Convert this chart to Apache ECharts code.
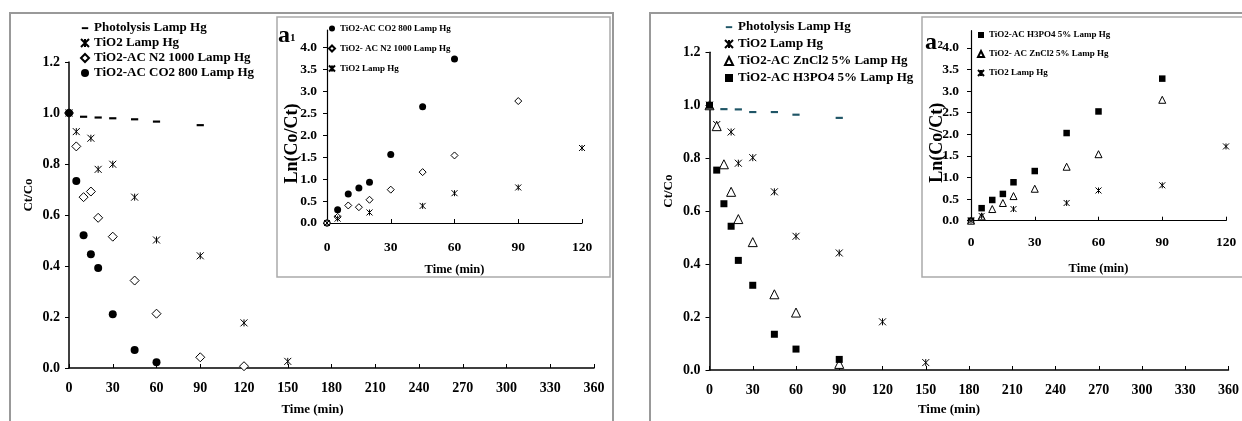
<!DOCTYPE html>
<html>
<head>
<meta charset="utf-8">
<script src="https://cdn.jsdelivr.net/npm/echarts@6/dist/echarts.min.js"></script>
<style>html,body{margin:0;padding:0;background:#fff;}#c{width:1242px;height:421px;}</style>
</head>
<body>
<div id="c"></div>
<script>
// ---------- data (left panel a) ----------
const L_photoT = [10, 20, 30, 45, 60, 90];
const L_photoV = [0.986, 0.983, 0.980, 0.976, 0.967, 0.953];
const L_tio2T = [0, 5, 15, 20, 30, 45, 60, 90, 120, 150];
const L_tio2V = [1.0, 0.927, 0.901, 0.779, 0.799, 0.670, 0.502, 0.440, 0.177, 0.026];
const L_n2T = [0, 5, 10, 15, 20, 30, 45, 60, 90, 120];
const L_n2V = [1.0, 0.869, 0.670, 0.692, 0.589, 0.515, 0.343, 0.213, 0.042, 0.007];
const L_co2T = [0, 5, 10, 15, 20, 30, 45, 60];
const L_co2V = [1.0, 0.733, 0.521, 0.446, 0.392, 0.211, 0.071, 0.023];
// inset a1 : Ln(Co/Ct)
const A1_co2T = [0, 5, 10, 15, 20, 30, 45, 60];
const A1_co2V = [0, 0.30, 0.66, 0.80, 0.93, 1.56, 2.65, 3.74];
const A1_n2T = [0, 5, 10, 15, 20, 30, 45, 60, 90];
const A1_n2V = [0, 0.14, 0.40, 0.36, 0.53, 0.76, 1.16, 1.54, 2.78];
const A1_tio2T = [0, 5, 20, 45, 60, 90, 120];
const A1_tio2V = [0, 0.10, 0.24, 0.39, 0.68, 0.81, 1.71];
// ---------- data (right panel b) ----------
const R_photoT = [10, 20, 30, 45, 60, 90];
const R_photoV = [0.986, 0.985, 0.975, 0.975, 0.965, 0.953];
const R_tio2T = [0, 5, 15, 20, 30, 45, 60, 90, 120, 150];
const R_tio2V = [1.0, 0.927, 0.899, 0.781, 0.802, 0.673, 0.505, 0.442, 0.182, 0.028];
const R_znT = [0, 5, 10, 15, 20, 30, 45, 60, 90];
const R_znV = [1.0, 0.921, 0.777, 0.673, 0.570, 0.483, 0.286, 0.217, 0.023];
const R_h3T = [0, 5, 10, 15, 20, 30, 45, 60, 90];
const R_h3V = [1.0, 0.755, 0.628, 0.543, 0.414, 0.320, 0.135, 0.079, 0.040];
// inset a2
const A2_h3T = [0, 5, 10, 15, 20, 30, 45, 60, 90];
const A2_h3V = [0, 0.29, 0.48, 0.62, 0.89, 1.15, 2.03, 2.53, 3.29];
const A2_znT = [0, 5, 10, 15, 20, 30, 45, 60, 90];
const A2_znV = [0, 0.10, 0.27, 0.41, 0.57, 0.74, 1.25, 1.54, 2.80];
const A2_tio2T = [0, 5, 20, 45, 60, 90, 120];
const A2_tio2V = [0, 0.11, 0.27, 0.41, 0.70, 0.82, 1.72];
// ---------- ticks ----------
const mainXTicks = [0, 30, 60, 90, 120, 150, 180, 210, 240, 270, 300, 330, 360];
const mainYTicks = [0, 0.2, 0.4, 0.6, 0.8, 1.0, 1.2];
const insetXTicks = [0, 30, 60, 90, 120];
const insetYTicks = [0, 0.5, 1.0, 1.5, 2.0, 2.5, 3.0, 3.5, 4.0];
// ---------- names ----------
const N_PHOTO = 'Photolysis Lamp Hg';
const N_TIO2 = 'TiO2 Lamp Hg';
const N_N2 = 'TiO2-AC N2 1000 Lamp Hg';
const N_CO2 = 'TiO2-AC CO2 800 Lamp Hg';
const N_ZN = 'TiO2-AC ZnCl2 5% Lamp Hg';
const N_H3 = 'TiO2-AC H3PO4 5% Lamp Hg';
const N_CO2i = 'TiO2-AC CO2 800 Lamp Hg ';
const N_N2i = 'TiO2- AC N2 1000 Lamp Hg';
const N_TIO2i = 'TiO2 Lamp Hg ';
const N_H3i = 'TiO2-AC H3PO4 5% Lamp Hg ';
const N_ZNi = 'TiO2- AC ZnCl2 5% Lamp Hg';

const FONT = 'Liberation Serif';
const DASH = 'path://M0,0M10,10M1,4h8v2.4h-8z';
const STAR = 'path://M0,0L10,10M10,0L0,10M5,0L5,10';

const pts = (t, v) => t.map((x, i) => [x, v[i]]);

const sty = {
  photoL: {symbol: DASH, itemStyle: {color: '#000', opacity: 1}},
  photoR: {symbol: DASH, itemStyle: {color: '#1f5566', opacity: 1}},
  star: {symbol: STAR, itemStyle: {color: 'rgba(0,0,0,0)', borderColor: '#000', borderWidth: 1, opacity: 1}},
  diamond: {symbol: 'diamond', itemStyle: {color: '#fff', borderColor: '#000', borderWidth: 1, opacity: 1}},
  circle: {symbol: 'circle', itemStyle: {color: '#000', opacity: 1}},
  tri: {symbol: 'triangle', itemStyle: {color: '#fff', borderColor: '#000', borderWidth: 1, opacity: 1}},
  square: {symbol: 'rect', itemStyle: {color: '#000', opacity: 1}}
};

function sc(name, grid, t, v, s, size) {
  return Object.assign({
    type: 'scatter', name: name, xAxisIndex: grid, yAxisIndex: grid,
    data: pts(t, v), symbolSize: size, silent: true
  }, JSON.parse(JSON.stringify(s)));
}

function mainX(grid, nameGap, pad) {
  return {
    gridIndex: grid, type: 'value', min: 0, max: 360, interval: 30,
    name: 'Time (min)', nameLocation: 'middle', nameGap: nameGap, nameMoveOverlap: false,
    nameTextStyle: {fontFamily: FONT, fontWeight: 'bold', fontSize: 13, color: '#000', padding: pad},
    axisLine: {show: true, onZero: false, lineStyle: {color: '#000', width: 1.5}},
    axisTick: {show: true, inside: true, length: 4, lineStyle: {color: '#000', width: 1}, customValues: mainXTicks},
    axisLabel: {fontFamily: FONT, fontWeight: 'bold', fontSize: 14, color: '#000', margin: 13, customValues: mainXTicks},
    splitLine: {show: false}
  };
}
function mainY(grid, pad) {
  return {
    gridIndex: grid, type: 'value', min: 0, max: 1.2, interval: 0.2,
    name: 'Ct/Co', nameLocation: 'middle', nameGap: 34, nameRotate: 90, nameMoveOverlap: false,
    nameTextStyle: {fontFamily: FONT, fontWeight: 'bold', fontSize: 13, color: '#000', padding: pad},
    axisLine: {show: true, onZero: false, lineStyle: {color: '#000', width: 1.5}},
    axisTick: {show: true, inside: false, length: 4, lineStyle: {color: '#000', width: 1}, customValues: mainYTicks},
    axisLabel: {fontFamily: FONT, fontWeight: 'bold', fontSize: 14, color: '#000', margin: 9,
      customValues: mainYTicks, formatter: v => v.toFixed(1)},
    splitLine: {show: false}
  };
}
function insetX(grid, margin, nameGap) {
  return {
    gridIndex: grid, type: 'value', min: 0, max: 120, interval: 30,
    name: 'Time (min)', nameLocation: 'middle', nameGap: nameGap, nameMoveOverlap: false,
    nameTextStyle: {fontFamily: FONT, fontWeight: 'bold', fontSize: 12.5, color: '#000'},
    axisLine: {show: true, onZero: false, lineStyle: {color: '#000', width: 1.2}},
    axisTick: {show: true, inside: true, length: 4, lineStyle: {color: '#000', width: 1}, customValues: insetXTicks},
    axisLabel: {fontFamily: FONT, fontWeight: 'bold', fontSize: 13.5, color: '#000', margin: margin, customValues: insetXTicks},
    splitLine: {show: false}
  };
}
function insetY(grid, margin, nameGap) {
  return {
    gridIndex: grid, type: 'value', min: 0, max: 4.4,
    name: 'Ln(Co/Ct)', nameLocation: 'middle', nameGap: nameGap, nameRotate: 90, nameMoveOverlap: false,
    nameTextStyle: {fontFamily: FONT, fontWeight: 'bold', fontSize: 18, color: '#000', padding: [0, 34, 0, 0]},
    axisLine: {show: true, onZero: false, lineStyle: {color: '#000', width: 1.2}},
    axisTick: {show: true, inside: false, length: 4, lineStyle: {color: '#000', width: 1}, customValues: insetYTicks},
    axisLabel: {fontFamily: FONT, fontWeight: 'bold', fontSize: 13.5, color: '#000', margin: margin,
      customValues: insetYTicks, formatter: v => v.toFixed(1)},
    splitLine: {show: false}
  };
}
function legend(names, icons, left, top, gap, fs, iw) {
  return {
    orient: 'vertical', left: left, top: top, itemGap: gap, itemWidth: iw, itemHeight: iw,
    selectedMode: false, padding: 0,
    textStyle: {fontFamily: FONT, fontWeight: 'bold', fontSize: fs, color: '#000'},
    data: names.map((n, i) => ({name: n, icon: icons[i]}))
  };
}

const chart = echarts.init(document.getElementById('c'), null, {renderer: 'canvas'});
chart.setOption({
  animation: false,
  backgroundColor: '#fff',
  grid: [
    {left: 69, top: 62, width: 525, height: 308},
    {left: 327, top: 30, width: 255, height: 193},
    {left: 709.5, top: 52.3, width: 524.5, height: 319.4},
    {left: 971, top: 30.7, width: 255, height: 190}
  ],
  xAxis: [mainX(0, 35, [0, 38, 0, 0]), insetX(1, 18, 40), mainX(2, 33, [0, 40, 0, 0]), insetX(3, 15, 42)],
  yAxis: [mainY(0, [0, 0, 0, 40]), insetY(1, 10, 26), mainY(2, [0, 0, 0, 40]), insetY(3, 12, 25)],
  legend: [
    legend([N_PHOTO, N_TIO2, N_N2, N_CO2], [DASH, STAR, 'diamond', 'circle'], 80, 21.5, 2, 13, 8),
    legend([N_CO2i, N_N2i, N_TIO2i], ['circle', 'diamond', STAR], 328, 24, 11, 9, 6),
    legend([N_PHOTO + ' ', N_TIO2 + '  ', N_ZN, N_H3], [DASH, STAR, 'triangle', 'rect'], 724, 20.5, 4, 13, 8),
    legend([N_H3i, N_ZNi, N_TIO2 + '   '], ['rect', 'triangle', STAR], 977, 30.5, 10, 9, 6)
  ],
  graphic: [
    {type: 'rect', shape: {x: 10, y: 13, width: 603, height: 430}, style: {fill: 'none', stroke: '#999', lineWidth: 2}, z: -1},
    {type: 'rect', shape: {x: 277, y: 17, width: 333, height: 260}, style: {fill: 'none', stroke: '#aaa', lineWidth: 1.5}, z: -1},
    {type: 'rect', shape: {x: 650, y: 13, width: 620, height: 430}, style: {fill: 'none', stroke: '#999', lineWidth: 2}, z: -1},
    {type: 'rect', shape: {x: 922, y: 17, width: 340, height: 260}, style: {fill: 'none', stroke: '#aaa', lineWidth: 1.5}, z: -1},
    {type: 'text', x: 278, y: 48, style: {text: 'a', font: 'bold 24px "Liberation Serif"', fill: '#000', verticalAlign: 'bottom'}},
    {type: 'text', x: 290, y: 43.5, style: {text: '1', font: 'bold 11px "Liberation Serif"', fill: '#000', verticalAlign: 'bottom'}},
    {type: 'text', x: 925, y: 55, style: {text: 'a', font: 'bold 24px "Liberation Serif"', fill: '#000', verticalAlign: 'bottom'}},
    {type: 'text', x: 937.5, y: 50.5, style: {text: '2', font: 'bold 11px "Liberation Serif"', fill: '#000', verticalAlign: 'bottom'}}
  ],
  series: [
    sc(N_PHOTO, 0, L_photoT, L_photoV, sty.photoL, 9),
    sc(N_TIO2, 0, L_tio2T, L_tio2V, sty.star, 7),
    sc(N_N2, 0, L_n2T, L_n2V, sty.diamond, 9),
    sc(N_CO2, 0, L_co2T, L_co2V, sty.circle, 8),
    sc(N_CO2i, 1, A1_co2T, A1_co2V, sty.circle, 7),
    sc(N_N2i, 1, A1_n2T, A1_n2V, sty.diamond, 7),
    sc(N_TIO2i, 1, A1_tio2T, A1_tio2V, sty.star, 6),
    sc(N_PHOTO + ' ', 2, R_photoT, R_photoV, sty.photoR, 9),
    sc(N_TIO2 + '  ', 2, R_tio2T, R_tio2V, sty.star, 7),
    sc(N_ZN, 2, R_znT, R_znV, sty.tri, 9),
    sc(N_H3, 2, R_h3T, R_h3V, sty.square, 7),
    sc(N_H3i, 3, A2_h3T, A2_h3V, sty.square, 6.5),
    sc(N_ZNi, 3, A2_znT, A2_znV, sty.tri, 7),
    sc(N_TIO2 + '   ', 3, A2_tio2T, A2_tio2V, sty.star, 6)
  ]
});
</script>
</body>
</html>
